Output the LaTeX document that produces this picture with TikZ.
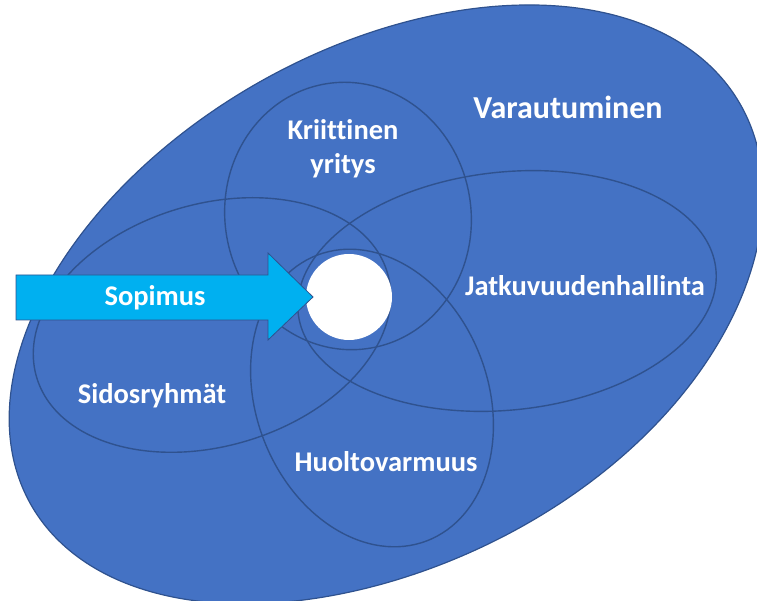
\documentclass[tikz,border=0pt]{standalone}
\usepackage{fontspec}
\setmainfont{Carlito}[Ligatures=NoCommon]
\usetikzlibrary{shapes.geometric}
\definecolor{fillblue}{HTML}{4472C4}
\definecolor{lineblue}{HTML}{2F528F}
\definecolor{arrowcyan}{HTML}{00B0F0}
\tikzset{
  ring/.style={ellipse, draw=lineblue, line width=1.4pt, inner sep=0pt},
  txt/.style={text=white, font=\bfseries\fontsize{28.5}{34}\selectfont, align=center, inner sep=0pt},
  declare function={
    % radius factor of the outer oval, a little fuller towards the lower right
    bulge(\t)=1+0.03*exp(-(((\t+70)/40)*((\t+70)/40)));
  },
}
\begin{document}
\begin{tikzpicture}[x=1pt,y=1pt]
  \useasboundingbox (0,0) rectangle (757,601);
  \clip (0,0) rectangle (757,601);
  % outer field: tilted oval, centre (385,297), half axes 407 and 255, turned 29.5 degrees
  \coordinate (outer) at (385,297);
  \filldraw[fill=fillblue, draw=lineblue, line width=1.2pt]
    plot[domain=-180:180, samples=361, variable=\t]
      ({385 + bulge(\t)*(407*cos(\t)*cos(29.5) - 255*sin(\t)*sin(29.5))},
       {297 + bulge(\t)*(407*cos(\t)*sin(29.5) + 255*sin(\t)*cos(29.5))}) -- cycle;
  % overlapping areas
  \node[ring, minimum width=246, minimum height=268, rotate=10]   (kriit) at (348,385) {};
  \node[ring, minimum width=366, minimum height=242, rotate=16.7] (sido)  at (212,276) {};
  \node[ring, minimum width=420, minimum height=238, rotate=6]    (jatk)  at (507,310) {};
  \node[ring, minimum width=232, minimum height=306, rotate=21]   (huolto) at (372,203) {};
  % core
  \node[circle, fill=white, inner sep=0pt, minimum size=86] (core) at (349,304) {};
  % block arrow pointing at the core
  \coordinate (tip) at (313,304);
  \filldraw[fill=arrowcyan, draw=lineblue, line width=0.8pt]
    (16,326) -- (268,326) -- (268,348) -- (tip) -- (268,261) -- (268,281) -- (16,281) -- cycle;
  % texts
  \node[txt, font=\bfseries\fontsize{32}{38}\selectfont] (t-var) at (568,494) {Varautuminen};
  \node[txt] (t-kriit) at (343,452) {Kriittinen\\yritys};
  \node[txt] (t-jatk) at (585,315) {Jatkuvuudenhallinta};
  \node[txt] (t-sop) at (155,303) {Sopimus};
  \node[txt] (t-sido) at (152,205) {Sidosryhmät};
  \node[txt] (t-huolto) at (386,139) {Huoltovarmuus};
\end{tikzpicture}
\end{document}
